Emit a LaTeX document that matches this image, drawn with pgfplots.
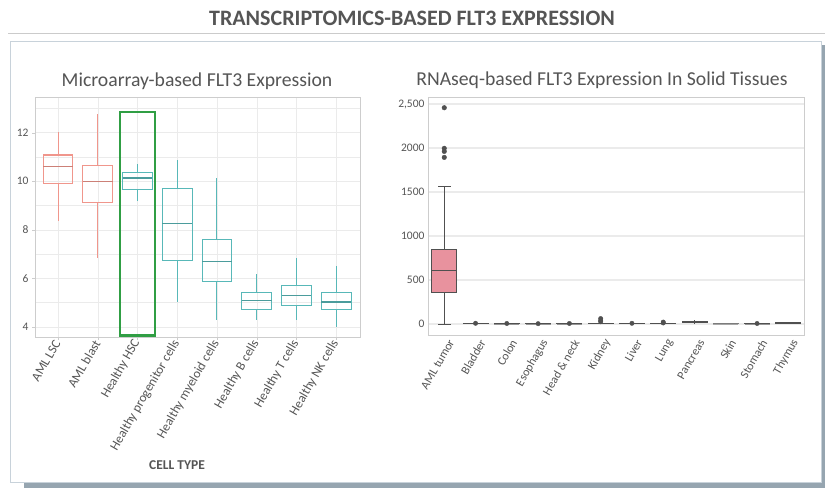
\documentclass[border=0pt]{standalone}
\usepackage{pgfplots}
\pgfplotsset{compat=1.18}
\usepgfplotslibrary{statistics}
\usepackage{fontspec}
\setmainfont{Carlito}
\definecolor{salmon}{RGB}{240,150,140}
\definecolor{teal2}{RGB}{88,184,184}
\definecolor{gridgray}{RGB}{235,235,235}
\definecolor{framegray}{RGB}{205,205,205}
\definecolor{labelgray}{RGB}{85,85,85}
\definecolor{darkbox}{RGB}{80,80,80}
\definecolor{pinkfill}{RGB}{232,146,158}
\definecolor{hlgreen}{RGB}{48,158,68}
\definecolor{panelborder}{RGB}{200,210,218}
\definecolor{shadow}{RGB}{150,165,176}
\pgfplotsset{
  salbox/.style={color=salmon, draw=salmon, line width=1.05pt,
    boxplot/every box/.style={draw=salmon, line width=1.05pt},
    boxplot/every whisker/.style={draw=salmon, line width=1.05pt},
    boxplot/every median/.style={draw=salmon!85!black, line width=1.4pt}},
  tealbox/.style={color=teal2, draw=teal2, line width=1.05pt,
    boxplot/every box/.style={draw=teal2, line width=1.05pt},
    boxplot/every whisker/.style={draw=teal2, line width=1.05pt},
    boxplot/every median/.style={draw=teal2!85!black, line width=1.4pt}},
}
\begin{document}
\begin{tikzpicture}
\useasboundingbox (0pt,0pt) rectangle (825pt,-488pt);
\fill[white] (0pt,0pt) rectangle (825pt,-488pt);
% frame
\fill[shadow] (24pt,-482pt) rectangle (825pt,-488pt);
\fill[shadow] (820pt,-45pt) rectangle (825pt,-488pt);
\draw[gridgray!70!gray, line width=0.8pt] (8pt,-33pt) -- (825pt,-33pt);
\draw[panelborder, line width=0.8pt, fill=white] (10pt,-41pt) rectangle (821pt,-482pt);
\node[font=\fontsize{22}{25}\selectfont\bfseries, text=labelgray] at (412pt,-18pt) {TRANSCRIPTOMICS-BASED FLT3 EXPRESSION};
\node[font=\fontsize{19.7}{22}\selectfont, text=labelgray] at (197pt,-81pt) {Microarray-based FLT3 Expression};
\node[font=\fontsize{19.7}{22}\selectfont, text=labelgray] at (602pt,-80pt) {RNAseq-based FLT3 Expression In Solid Tissues};
\node[font=\fontsize{13.5}{15}\selectfont\bfseries, text=labelgray] at (177pt,-465pt) {CELL TYPE};

\begin{axis}[
  at={(35pt,-337pt)}, anchor=south west,
  width=325pt, height=240pt, scale only axis,
  xmin=-0.58, xmax=7.6, ymin=3.58, ymax=13.47,
  xtick={0,...,7},
  xticklabels={AML LSC, AML blast, Healthy HSC, Healthy progenitor cells, Healthy myeloid cells, Healthy B cells, Healthy T cells, Healthy NK cells},
  xticklabel style={rotate=60, anchor=east, font=\fontsize{13}{15}\selectfont, text=labelgray, inner sep=1pt},
  ytick={4,6,...,12},
  minor ytick={5,7,...,13},
  yticklabel style={font=\fontsize{11.5}{13}\selectfont, text=labelgray},
  /pgf/number format/assume math mode=true,
  grid=both, major grid style={gridgray}, minor grid style={gridgray},
  axis line style={framegray},
  tick style={framegray}, tick align=outside, major tick length=3pt, minor tick style={draw=none},
  xtick pos=lower, ytick pos=left,
  boxplot/draw direction=y,
  boxplot/whisker extend=0,
  boxplot/box extend=0.75,
]
\addplot[salbox, boxplot prepared={draw position=0, lower whisker=8.35, lower quartile=9.9, median=10.6, upper quartile=11.08, upper whisker=12.04}] coordinates {};
\addplot[salbox, boxplot prepared={draw position=1, lower whisker=6.83, lower quartile=9.12, median=10.0, upper quartile=10.65, upper whisker=12.76}] coordinates {};
\addplot[tealbox, boxplot prepared={draw position=2, lower whisker=9.18, lower quartile=9.66, median=10.14, upper quartile=10.37, upper whisker=10.72}] coordinates {};
\addplot[tealbox, boxplot prepared={draw position=3, lower whisker=5.02, lower quartile=6.74, median=8.25, upper quartile=9.69, upper whisker=10.86}] coordinates {};
\addplot[tealbox, boxplot prepared={draw position=4, lower whisker=4.3, lower quartile=5.88, median=6.7, upper quartile=7.58, upper whisker=10.14}] coordinates {};
\addplot[tealbox, boxplot prepared={draw position=5, lower whisker=4.27, lower quartile=4.7, median=5.08, upper quartile=5.43, upper whisker=6.18}] coordinates {};
\addplot[tealbox, boxplot prepared={draw position=6, lower whisker=4.27, lower quartile=4.88, median=5.29, upper quartile=5.7, upper whisker=6.84}] coordinates {};
\addplot[tealbox, boxplot prepared={draw position=7, lower whisker=4.0, lower quartile=4.7, median=5.02, upper quartile=5.43, upper whisker=6.5}] coordinates {};
\draw[hlgreen, line width=2.6pt] (axis cs:1.56,12.85) rectangle (axis cs:2.44,3.64);
\end{axis}

\begin{axis}[
  at={(428pt,-335pt)}, anchor=south west,
  width=376pt, height=238pt, scale only axis,
  xmin=-0.52, xmax=11.5, ymin=-125, ymax=2580,
  xtick={0,...,11},
  xticklabels={AML tumor, Bladder, Colon, Esophagus, Head \& neck, Kidney, Liver, Lung, Pancreas, Skin, Stomach, Thymus},
  xticklabel style={rotate=60, anchor=east, font=\fontsize{12}{14}\selectfont, text=labelgray, inner sep=1pt, yshift=-9pt},
  ytick={0,500,...,2500},
  yticklabels={0,500,1000,1500,2000,{2,500}},
  yticklabel style={font=\fontsize{11.5}{13}\selectfont, text=labelgray},
  ymajorgrids, major grid style={gridgray, line width=1.2pt},
  axis line style={framegray},
  tick style={draw=none},
]
% AML tumor box (whiskers 0 / 1568, quartiles 356 / 849, median 606)
\addplot[darkbox, line width=1pt] coordinates {(0,0) (0,356)};
\addplot[darkbox, line width=1pt] coordinates {(0,849) (0,1568)};
\addplot[darkbox, line width=1pt] coordinates {(-0.2,0) (0.2,0)};
\addplot[darkbox, line width=1pt] coordinates {(-0.2,1568) (0.2,1568)};
\addplot[draw=darkbox, fill=pinkfill, line width=1pt] coordinates {(-0.4,356) (0.4,356) (0.4,849) (-0.4,849)} -- cycle;
\addplot[darkbox, line width=1pt] coordinates {(-0.4,606) (0.4,606)};
\addplot[only marks, mark=*, mark size=2.3pt, darkbox] coordinates {(0,2458) (0,1997) (0,1962) (0,1894)};
% solid tissues (boxes near zero)
\addplot[draw=darkbox, fill=darkbox!60, line width=1pt] coordinates {(0.6,1) (1.4,1) (1.4,6) (0.6,6)} -- cycle;
\addplot[draw=darkbox, fill=darkbox!60, line width=1pt] coordinates {(1.6,1) (2.4,1) (2.4,5) (1.6,5)} -- cycle;
\addplot[draw=darkbox, fill=darkbox!60, line width=1pt] coordinates {(2.6,1) (3.4,1) (3.4,4) (2.6,4)} -- cycle;
\addplot[draw=darkbox, fill=darkbox!60, line width=1pt] coordinates {(3.6,1) (4.4,1) (4.4,5) (3.6,5)} -- cycle;
\addplot[draw=darkbox, fill=darkbox!60, line width=1pt] coordinates {(4.6,2) (5.4,2) (5.4,10) (4.6,10)} -- cycle;
\addplot[draw=darkbox, fill=darkbox!60, line width=1pt] coordinates {(5.6,1) (6.4,1) (6.4,6) (5.6,6)} -- cycle;
\addplot[draw=darkbox, fill=darkbox!60, line width=1pt] coordinates {(6.6,1) (7.4,1) (7.4,6) (6.6,6)} -- cycle;
\addplot[draw=darkbox, fill=darkbox!60, line width=1pt] coordinates {(7.6,14) (8.4,14) (8.4,30) (7.6,30)} -- cycle;
\addplot[darkbox, line width=1pt] coordinates {(8,5) (8,14)};
\addplot[darkbox, line width=1pt] coordinates {(8,30) (8,40)};
\addplot[draw=darkbox!75, fill=darkbox!50, line width=1pt] coordinates {(8.6,1) (9.4,1) (9.4,3) (8.6,3)} -- cycle;
\addplot[draw=darkbox, fill=darkbox!60, line width=1pt] coordinates {(9.6,1) (10.4,1) (10.4,4) (9.6,4)} -- cycle;
\addplot[draw=darkbox, fill=darkbox!60, line width=1pt] coordinates {(10.6,7) (11.4,7) (11.4,12) (10.6,12)} -- cycle;
\addplot[only marks, mark=*, mark size=2.2pt, darkbox] coordinates {(1,8) (2,6) (3,4) (4,6) (5,62) (5,40) (5,25) (6,8) (7,22) (7,12) (10,6)};
\end{axis}
\end{tikzpicture}
\end{document}
